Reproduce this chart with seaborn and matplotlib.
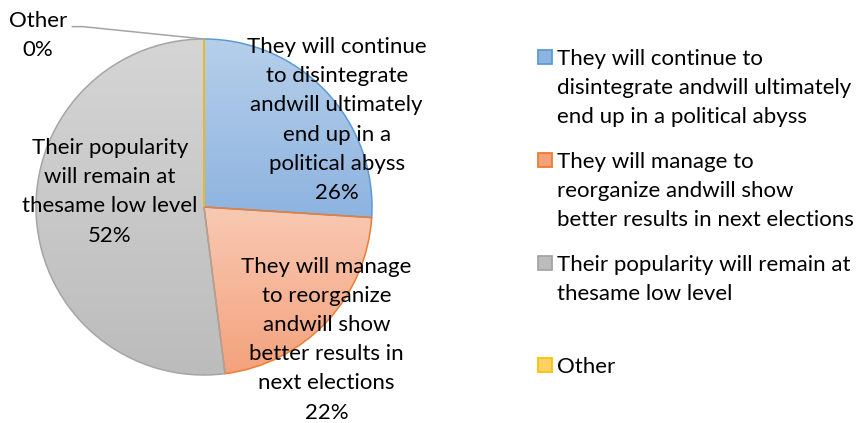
import matplotlib
matplotlib.use("Agg")
import matplotlib.pyplot as plt
from matplotlib.colors import LinearSegmentedColormap
from matplotlib.patches import Rectangle
import numpy as np
import seaborn as sns

categories = [
    "They will continue to disintegrate andwill ultimately end up in a political abyss",
    "They will manage to reorganize andwill show better results in next elections",
    "Their popularity will remain at thesame low level",
    "Other",
]
shares = [26, 22, 52, 0]
slice_labels = [
    "They will continue\nto disintegrate\nandwill ultimately\nend up in a\npolitical abyss\n26%",
    "They will manage\nto reorganize\nandwill show\nbetter results in\nnext elections\n22%",
    "Their popularity\nwill remain at\nthesame low level\n52%",
    "Other\n0%",
]
legend_labels = [
    "They will continue to\ndisintegrate andwill ultimately\nend up in a political abyss",
    "They will manage to\nreorganize andwill show\nbetter results in next elections",
    "Their popularity will remain at\nthesame low level",
    "Other",
]

edge_colors = ["#5b9bd5", "#ed7d31", "#a5a5a5", "#ffc000"]
grad_top = ["#b6cfea", "#f8c9b3", "#d5d5d5", "#ffe29a"]
grad_bottom = ["#8db3e0", "#f4a27c", "#bcbcbc", "#ffd267"]

sns.set_style("white")
plt.rcParams["font.family"] = ["Lato", "DejaVu Sans"]

FS = 16
LS = 1.57

fig = plt.figure(figsize=(8.58, 4.23), dpi=100)
ax = fig.add_axes([36 / 858, 48 / 423, 336 / 858, 336 / 423])

wedges, _ = ax.pie(shares, startangle=90, counterclock=False,
                   colors=grad_bottom,
                   wedgeprops=dict(linewidth=1.1))

# gradient fill, light at the top of each slice
for w, top, bot, ec in zip(wedges, grad_top, grad_bottom, edge_colors):
    w.set_edgecolor(ec)
    w.set_facecolor("none")
    ext = w.get_path().get_extents()
    if ext.height <= 0:
        continue
    cmap = LinearSegmentedColormap.from_list("g", [bot, top])
    grad = np.linspace(0, 1, 256).reshape(-1, 1)
    im = ax.imshow(grad, cmap=cmap, origin="lower", aspect="auto",
                   extent=[ext.x0, ext.x1, ext.y0, ext.y1], zorder=0.5)
    im.set_clip_path(w)
    w.set_zorder(1)
ax.set_xlim(-1, 1)
ax.set_ylim(-1, 1)
ax.set_aspect("equal")
ax.axis("off")

# label placement (data units, radius = 1)
label_pos = [(0.79, 0.518), (0.73, -0.79), (-0.56, 0.09), (-0.99, 1.02)]
for txt, (x, y) in zip(slice_labels, label_pos):
    ax.text(x, y, txt, ha="center", va="center", fontsize=FS,
            linespacing=LS, color="black", zorder=3, clip_on=False)

# leader line for "Other"
ax.plot([-0.785, -0.72, 0.0], [1.0735, 1.0735, 1.0], color="#a5a5a5",
        linewidth=1.1, clip_on=False, zorder=3)

# legend
leg_rows = [57, 160, 263, 365]
for lab, bot, ec, y in zip(legend_labels, grad_bottom, edge_colors, leg_rows):
    fig.patches.append(Rectangle((538 / 858, 1 - (y + 7) / 423), 14 / 858, 14 / 423,
                                 transform=fig.transFigure, facecolor=bot,
                                 edgecolor=ec, linewidth=1.3))
    fig.text(557 / 858, 1 - (y - 8) / 423, lab, ha="left", va="top",
             fontsize=FS, linespacing=LS, color="black")

fig.savefig("out.png", dpi=100)
